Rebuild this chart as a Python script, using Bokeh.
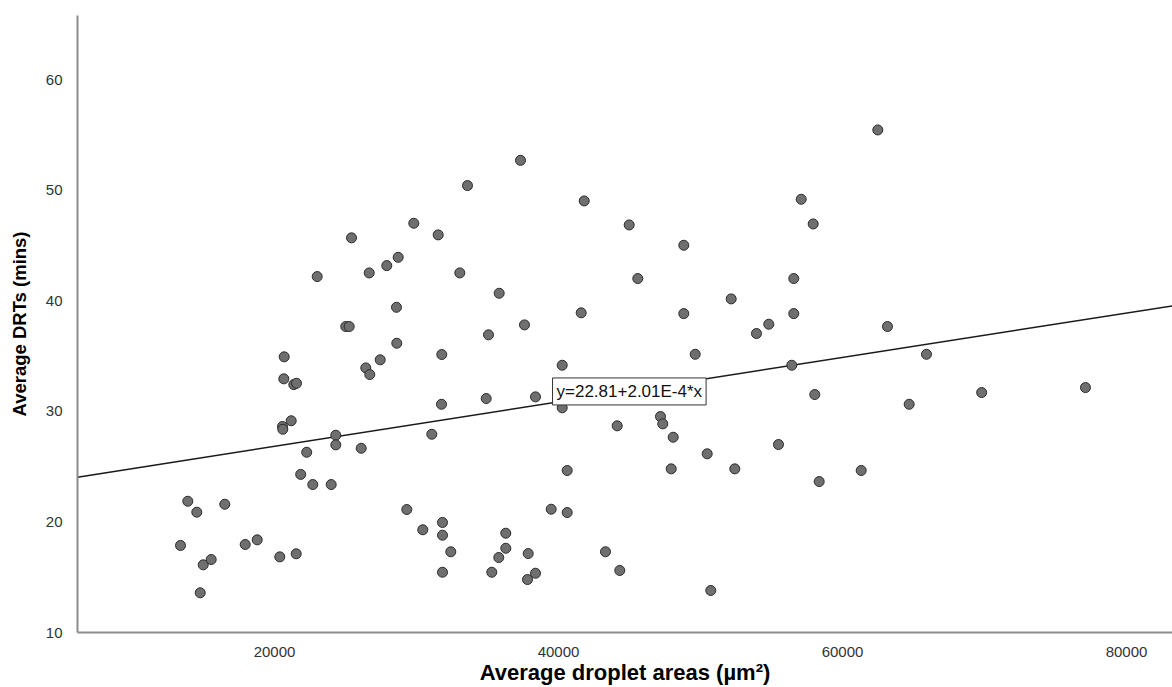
from bokeh.plotting import figure
from bokeh.models import Range1d, FixedTicker, Label, ColumnDataSource
from bokeh.embed import file_html
from bokeh.resources import INLINE

# Average droplet area (µm²) against average DRT (mins), one entry per sample
droplet_area = [
    13381, 13895, 14528, 14768, 14979, 15542, 16500, 17937, 18782, 20373,
    20563, 20584, 20683, 20655, 21176, 21359, 21549, 21528, 21845, 22268,
    22697, 23007, 23993, 24317, 24317, 25021, 25260, 25422, 26106, 26429,
    26711, 26669, 27443, 27908, 28612, 28591, 28711, 29317, 29810, 30443,
    31077, 31528, 31781, 31760, 31831, 31831, 31831, 32415, 33049, 33591,
    34908, 35070, 35302, 35823, 35795, 36288, 36288, 37323, 37605, 37866,
    37816, 38380, 38380, 39485, 40260, 40260, 40612, 40612, 41598, 41809,
    43309, 44133, 44316, 44978, 45584, 47182, 47344, 47936, 48077, 48823,
    48823, 49626, 50471, 50724, 52161, 52415, 53942, 54809, 55492, 56429,
    56569, 56569, 57090, 57935, 58048, 58358, 61316, 62485, 63167, 64695,
    65914, 69800, 77110,
]
avg_drt = [
    17.87, 21.87, 20.88, 13.59, 16.12, 16.60, 21.60, 17.96, 18.38, 16.84,
    28.63, 28.38, 34.93, 32.94, 29.15, 32.42, 32.54, 17.12, 24.30, 26.30,
    23.38, 42.19, 23.38, 27.84, 26.97, 37.67, 37.67, 45.69, 26.66, 33.93,
    33.33, 42.52, 34.66, 43.18, 36.16, 39.41, 43.93, 21.12, 47.01, 19.29,
    27.93, 45.96, 35.14, 30.64, 19.95, 18.80, 15.45, 17.30, 42.52, 50.42,
    31.16, 36.92, 15.45, 40.68, 16.78, 18.98, 17.62, 52.70, 37.82, 17.14,
    14.79, 31.31, 15.36, 21.15, 34.17, 30.32, 24.65, 20.85, 38.91, 49.03,
    17.30, 28.69, 15.61, 46.86, 42.01, 29.53, 28.87, 24.80, 27.66, 45.02,
    38.84, 35.16, 26.16, 13.80, 40.17, 24.80, 37.04, 37.88, 27.00, 34.17,
    42.01, 38.84, 49.18, 46.95, 31.52, 23.65, 24.65, 55.45, 37.67, 30.64,
    35.16, 31.70, 32.15,
]

# Linear fit reported on the chart
intercept = 22.81
slope = 2.01e-4
fit_label = "y=22.81+2.01E-4*x"

x_ticks = [20000, 40000, 60000, 80000]
y_ticks = [10, 20, 30, 40, 50, 60]

X_START, X_END = 6127, 83239
Y_START, Y_END = 10, 65.8

FONT = "Liberation Sans"

p = figure(
    width=1172, height=687,
    output_backend="svg", toolbar_location=None,
    x_range=Range1d(X_START, X_END), y_range=Range1d(Y_START, Y_END),
    min_border_left=77, min_border_right=0, min_border_top=15, min_border_bottom=55,
)
p.background_fill_color = "white"
p.border_fill_color = "white"
p.outline_line_color = None
p.grid.visible = False

for ax in (p.xaxis[0], p.yaxis[0]):
    ax.axis_line_color = "#8c8c8c"
    ax.axis_line_width = 2
    ax.major_tick_line_color = None
    ax.minor_tick_line_color = None
    ax.major_label_text_font = FONT
    ax.major_label_text_font_size = "15px"
    ax.major_label_text_color = "#333333"
    ax.axis_label_text_font = FONT
    ax.axis_label_text_font_style = "bold"
    ax.axis_label_text_color = "black"

p.xaxis.axis_label_text_font_size = "22px"
p.yaxis.axis_label_text_font_size = "18.5px"

p.xaxis.ticker = FixedTicker(ticks=x_ticks)
p.yaxis.ticker = FixedTicker(ticks=y_ticks)
p.xaxis.major_label_standoff = 8
p.yaxis.major_label_standoff = 9
p.xaxis.axis_label = "Average droplet areas (µm²)"
p.yaxis.axis_label = "Average DRTs (mins)"
p.xaxis.axis_label_standoff = 0
p.yaxis.axis_label_standoff = 13

# fitted line across the full horizontal range
fit_x = [X_START, X_END]
fit_y = [intercept + slope * v for v in fit_x]
p.line(fit_x, fit_y, line_color="#1a1a1a", line_width=1.5)

src = ColumnDataSource(data=dict(x=droplet_area, y=avg_drt))
p.scatter("x", "y", source=src, size=10, marker="circle",
          fill_color="#6f6f6f", line_color="#2b2b2b", line_width=1)

eq = Label(
    x=39580, y=31.8, text=fit_label,
    text_font=FONT, text_font_size="17px", text_color="#111111",
    text_align="left", text_baseline="middle",
    background_fill_color="white", border_line_color="#333333",
    border_line_width=1, padding=4,
)
p.add_layout(eq)

open("out.html", "w").write(file_html(p, INLINE))
